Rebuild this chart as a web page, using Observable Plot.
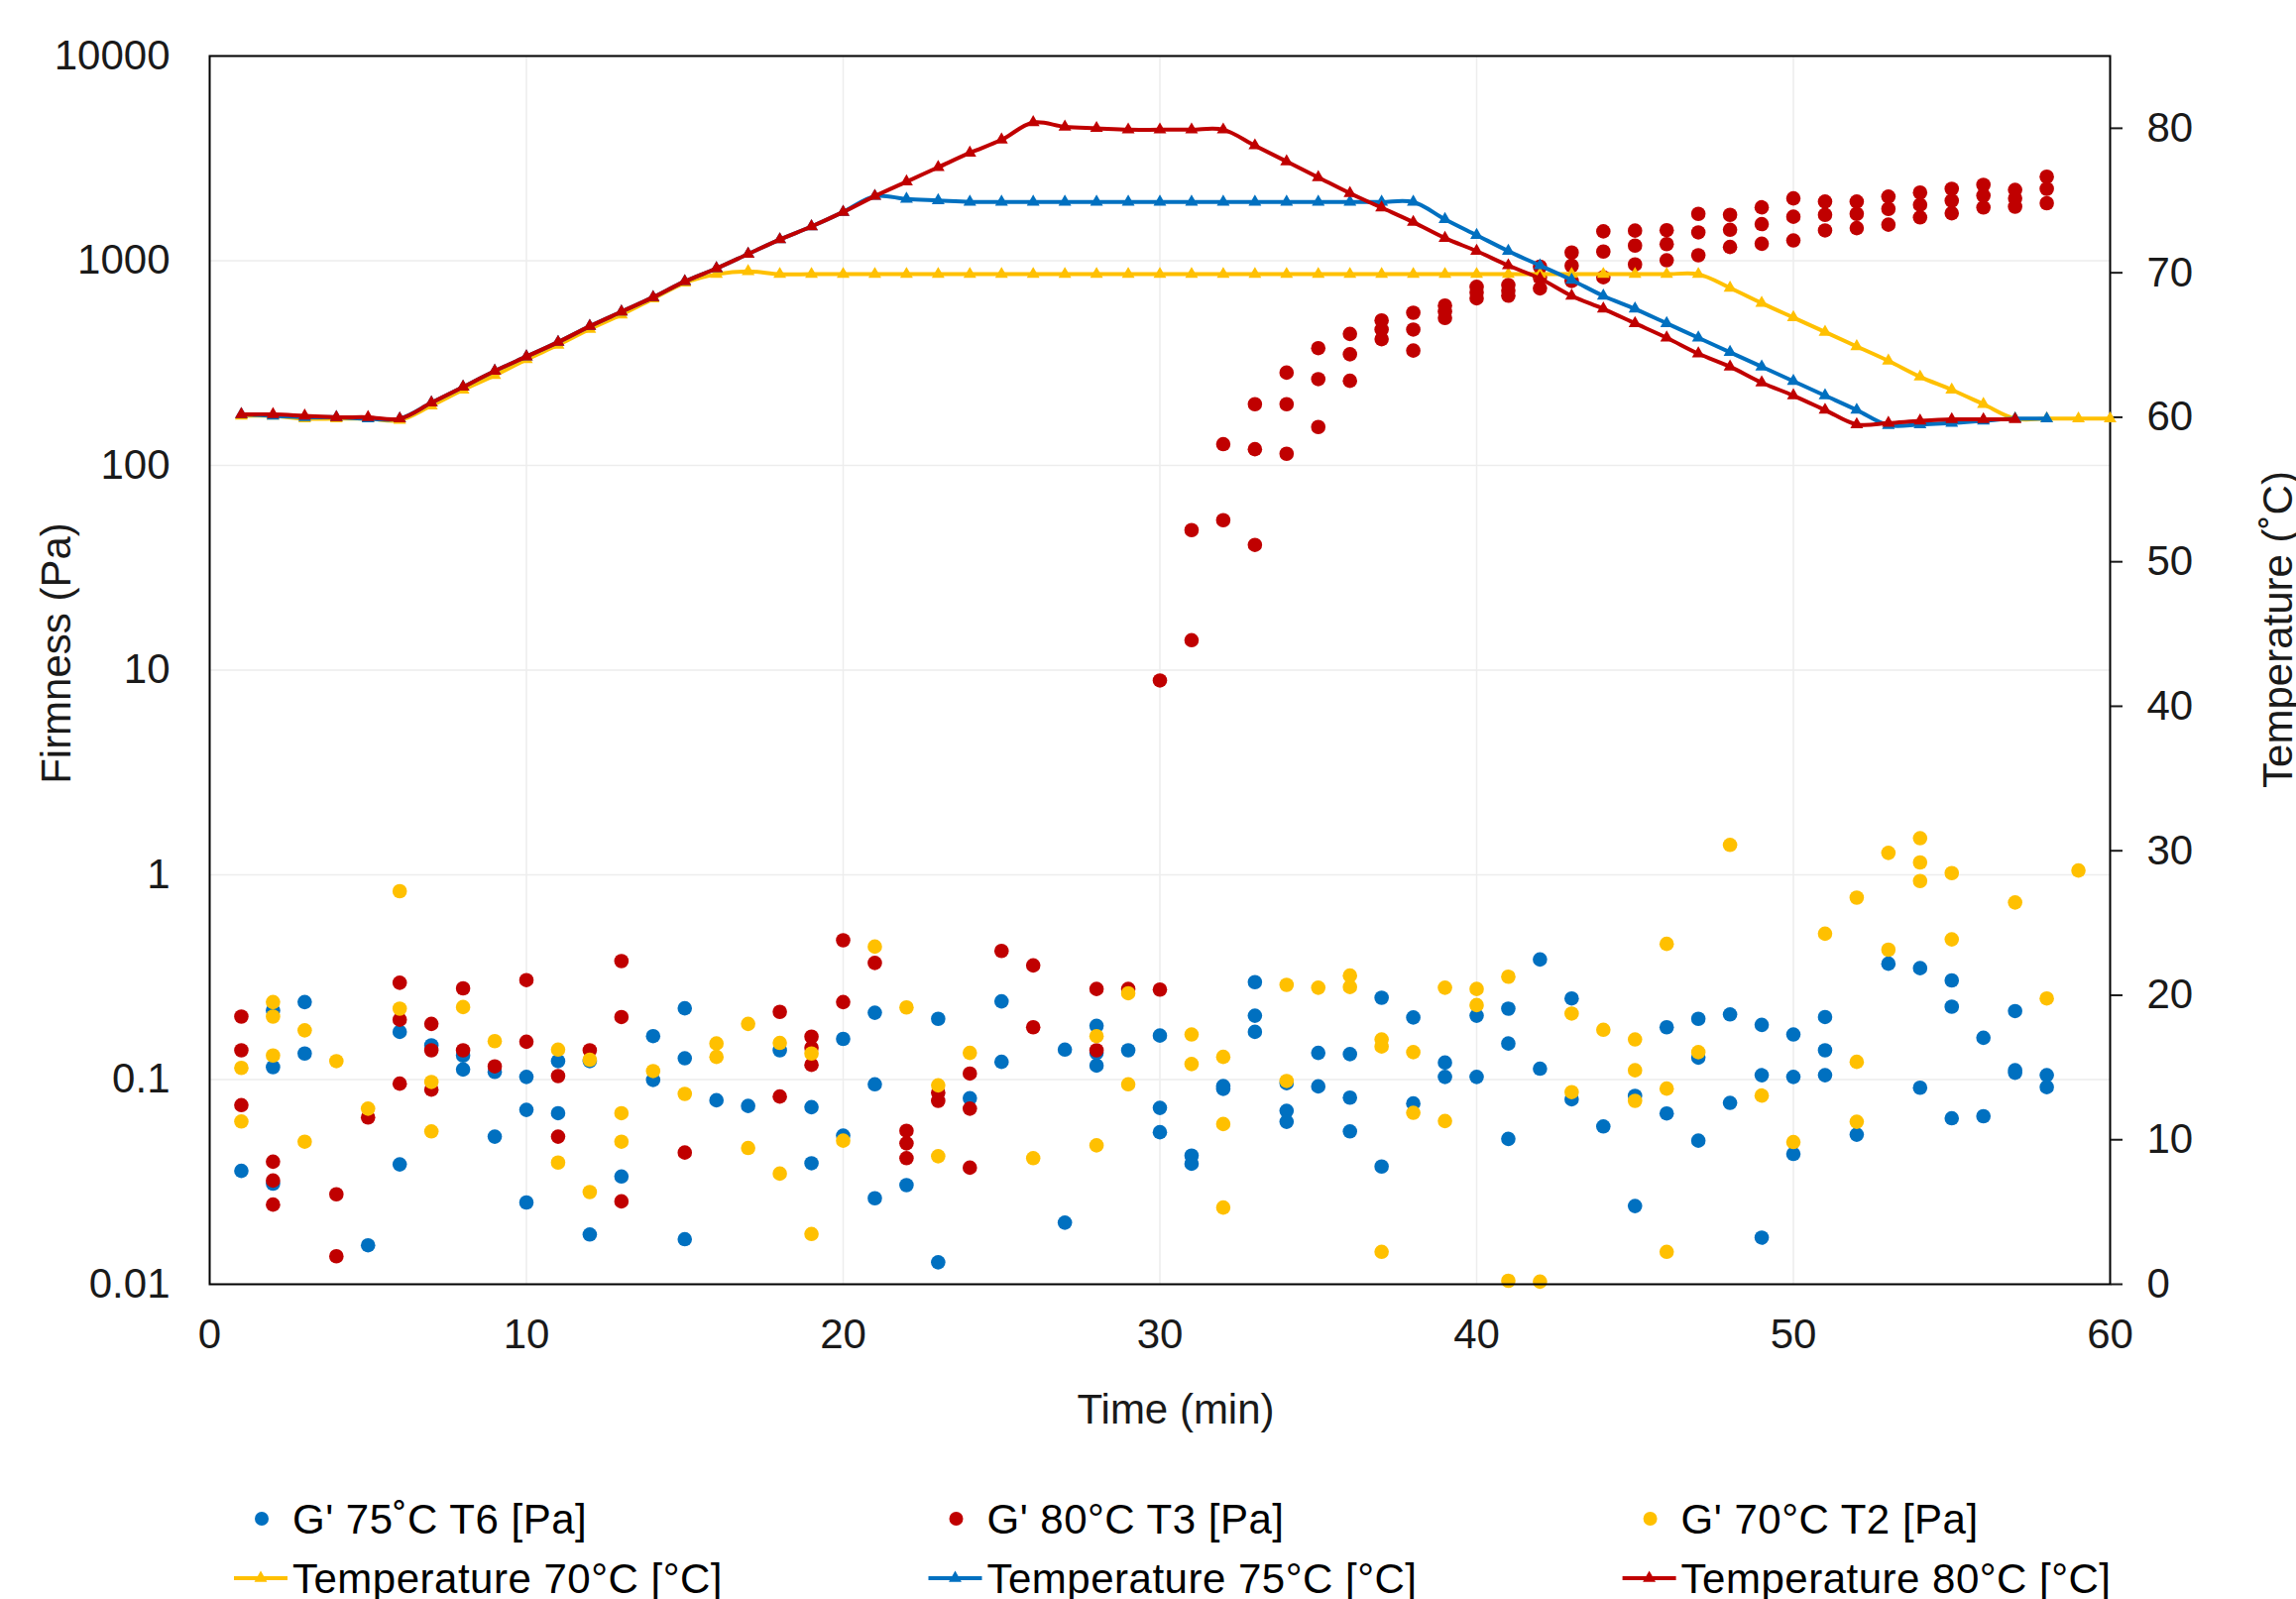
<!DOCTYPE html>
<html><head><meta charset="utf-8">
<script src="https://cdn.jsdelivr.net/npm/d3@7"></script>
<script src="https://cdn.jsdelivr.net/npm/@observablehq/plot@0.6"></script>
<style>
html,body{margin:0;padding:0;background:#fff;}
#fig{position:relative;width:2316px;height:1613px;overflow:hidden;background:#fff;font-family:"Liberation Sans",Arial,sans-serif;color:#1a1a1a;}
.rot{position:absolute;width:400px;height:42px;line-height:42px;font-size:42px;text-align:center;transform:rotate(-90deg);white-space:nowrap;}
.hz{position:absolute;width:400px;height:42px;line-height:42px;font-size:42px;text-align:center;white-space:nowrap;}
.lg{position:absolute;font-size:42px;line-height:42px;height:42px;white-space:nowrap;color:#000;letter-spacing:0.5px;}
</style></head>
<body><div id="fig"></div>
<script>
// ---- data ----
const xTicks = [0, 10, 20, 30, 40, 50, 60];
const yTicks = [0.01, 0.1, 1, 10, 100, 1000, 10000];
const tempTicks = [0, 10, 20, 30, 40, 50, 60, 70, 80];

const seriesNames = ["G' 75˚C T6 [Pa]", "G' 80°C T3 [Pa]", "G' 70°C T2 [Pa]"];
const tempNames = ["Temperature 70°C [°C]", "Temperature 75°C [°C]", "Temperature 80°C [°C]"];
const colors = {c75: "#0070C0", c80: "#C00000", c70: "#FFC000"};

// G' 75°C T6 [Pa]  : [time (min), firmness (Pa)]
const g75 = [[1,0.0358],[2,0.217],[2,0.115],[2,0.031],[3,0.239],[3,0.134],[5,0.0155],[6,0.171],[6,0.0385],[7,0.147],[8,0.131],[8,0.112],[9,0.109],[9,0.0526],[10,0.103],[10,0.0711],[10,0.0251],[11,0.123],[11,0.0685],[12,0.123],[12,0.0175],[13,0.0336],[14,0.163],[14,0.0995],[15,0.223],[15,0.127],[15,0.0166],[16,0.0792],[17,0.0743],[18,0.139],[19,0.0733],[19,0.039],[20,0.158],[20,0.0532],[21,0.212],[21,0.0948],[21,0.0263],[22,0.0305],[23,0.198],[23,0.0128],[24,0.0811],[25,0.241],[25,0.122],[27,0.140],[27,0.0200],[28,0.183],[28,0.135],[28,0.117],[29,0.139],[30,0.164],[30,0.0727],[30,0.0553],[31,0.0425],[31,0.0388],[32,0.0929],[32,0.090],[33,0.299],[33,0.205],[33,0.171],[34,0.096],[34,0.0703],[34,0.0622],[35,0.135],[35,0.0926],[36,0.133],[36,0.0816],[36,0.0558],[37,0.251],[37,0.0376],[38,0.201],[38,0.0764],[39,0.121],[39,0.103],[40,0.205],[40,0.103],[41,0.222],[41,0.150],[41,0.0513],[42,0.386],[42,0.113],[43,0.249],[43,0.0801],[44,0.059],[45,0.0832],[45,0.0241],[46,0.180],[46,0.0683],[47,0.198],[47,0.128],[47,0.0503],[48,0.208],[48,0.0769],[49,0.185],[49,0.105],[49,0.0169],[50,0.166],[50,0.103],[50,0.0433],[51,0.202],[51,0.139],[51,0.105],[52,0.0538],[53,0.368],[54,0.350],[54,0.0912],[55,0.305],[55,0.227],[55,0.0647],[56,0.160],[56,0.0662],[57,0.216],[57,0.111],[57,0.108],[58,0.105],[58,0.0918]];

// G' 80°C T3 [Pa]
const g80 = [[1,0.203],[1,0.139],[1,0.075],[2,0.0397],[2,0.0321],[2,0.0245],[4,0.0275],[4,0.0137],[5,0.0653],[6,0.297],[6,0.196],[6,0.0955],[7,0.187],[7,0.139],[7,0.0893],[8,0.279],[8,0.139],[9,0.116],[10,0.306],[10,0.153],[11,0.104],[11,0.0526],[12,0.139],[13,0.379],[13,0.202],[13,0.0254],[15,0.044],[18,0.214],[18,0.0826],[19,0.162],[19,0.143],[19,0.118],[20,0.479],[20,0.239],[21,0.371],[22,0.0562],[22,0.0488],[22,0.0413],[23,0.0863],[23,0.0787],[24,0.107],[24,0.0721],[24,0.0371],[25,0.425],[26,0.361],[26,0.180],[28,0.277],[28,0.139],[29,0.277],[30,0.275],[30,8.9],[31,48.3],[31,14.0],[32,127],[32,54],[33,199],[33,120],[33,40.9],[34,284],[34,199],[34,114],[35,374],[35,264],[35,154],[36,439],[36,349],[36,259],[37,511],[37,461],[37,414],[38,557],[38,461],[38,364],[39,604],[39,564],[39,525],[40,745],[40,700],[40,655],[41,760],[41,715],[41,675],[42,935],[42,830],[42,733],[43,1096],[43,946],[43,797],[44,1391],[44,1109],[44,830],[45,1403],[45,1185],[45,959],[46,1410],[46,1205],[46,1005],[47,1694],[47,1375],[47,1063],[48,1675],[48,1416],[48,1167],[49,1823],[49,1510],[49,1211],[50,2017],[50,1640],[50,1256],[51,1944],[51,1675],[51,1406],[52,1944],[52,1694],[52,1443],[53,2056],[53,1790],[53,1500],[54,2153],[54,1875],[54,1628],[55,2244],[55,1963],[55,1706],[56,2346],[56,2080],[56,1820],[57,2218],[57,2017],[57,1836],[58,2572],[58,2244],[58,1910]];

// G' 70°C T2 [Pa]
const g70 = [[1,0.114],[1,0.0624],[2,0.239],[2,0.203],[2,0.131],[3,0.174],[3,0.0497],[4,0.123],[5,0.0721],[6,0.832],[6,0.222],[7,0.0973],[7,0.0558],[8,0.226],[9,0.154],[11,0.140],[11,0.0393],[12,0.125],[12,0.0282],[13,0.0685],[13,0.0497],[14,0.110],[15,0.0851],[16,0.150],[16,0.129],[17,0.187],[17,0.0463],[18,0.151],[18,0.0347],[19,0.134],[19,0.0176],[20,0.0503],[21,0.446],[22,0.225],[23,0.0937],[23,0.0422],[24,0.135],[26,0.0413],[28,0.163],[28,0.0477],[29,0.264],[29,0.0948],[31,0.166],[31,0.119],[32,0.129],[32,0.0606],[32,0.0237],[34,0.290],[34,0.0984],[35,0.281],[36,0.322],[36,0.283],[37,0.157],[37,0.145],[37,0.0144],[38,0.136],[38,0.0688],[39,0.281],[39,0.0627],[40,0.277],[40,0.231],[41,0.318],[41,0.0104],[42,0.0103],[43,0.210],[43,0.0868],[44,0.175],[45,0.157],[45,0.111],[45,0.0787],[46,0.460],[46,0.0903],[46,0.0144],[47,0.136],[48,1.40],[49,0.0835],[50,0.0495],[51,0.516],[52,0.774],[52,0.122],[52,0.0622],[53,1.28],[53,0.431],[54,1.51],[54,1.15],[54,0.933],[55,1.02],[55,0.484],[57,0.733],[58,0.249],[59,1.05]];

// Temperatures (°C), one per minute starting at t = 1
const temp70 = [60.1,60.1,59.9,59.9,59.9,59.8,60.8,61.9,62.9,64.0,65.0,66.1,67.1,68.2,69.3,69.9,70.1,69.9,69.9,69.9,69.9,69.9,69.9,69.9,69.9,69.9,69.9,69.9,69.9,69.9,69.9,69.9,69.9,69.9,69.9,69.9,69.9,69.9,69.9,69.9,69.9,69.9,69.9,69.9,69.9,69.9,69.9,68.95,67.9,66.9,65.9,64.9,63.9,62.8,61.9,60.9,59.9,59.9,59.9,59.9];
const temp75 = [60.2,60.1,60.0,60.0,59.9,59.9,61.0,62.1,63.2,64.2,65.2,66.3,67.3,68.3,69.4,70.3,71.3,72.3,73.2,74.2,75.3,75.1,75.0,74.9,74.9,74.9,74.9,74.9,74.9,74.9,74.9,74.9,74.9,74.9,74.9,74.9,74.9,74.9,73.7,72.6,71.5,70.5,69.5,68.4,67.5,66.5,65.5,64.5,63.5,62.5,61.5,60.5,59.45,59.5,59.6,59.75,59.9,59.9];
const temp80 = [60.2,60.2,60.1,60.0,60.0,59.9,61.0,62.1,63.2,64.2,65.2,66.3,67.3,68.3,69.4,70.3,71.3,72.3,73.2,74.2,75.3,76.3,77.3,78.3,79.2,80.4,80.1,80.0,79.9,79.9,79.9,79.9,78.8,77.7,76.6,75.5,74.5,73.5,72.4,71.5,70.5,69.6,68.4,67.5,66.5,65.5,64.4,63.5,62.4,61.5,60.5,59.5,59.6,59.75,59.85,59.85,59.85];

// ---- build ----
const toRows = arr => arr.map(([t, v]) => ({t, v}));
const tRows = arr => arr.map((T, i) => ({t: i + 1, T}));

const W = 2316, H = 1460;
const common = {
  width: W, height: H,
  marginLeft: 211, marginRight: 188, marginTop: 56, marginBottom: H - 1295,
  style: {fontFamily: '"Liberation Sans", Arial, sans-serif', fontSize: "42px", color: "#1a1a1a", background: "transparent", overflow: "visible"}
};
const grid = {stroke: "#EDEDED", strokeOpacity: 1, strokeWidth: 1.5};

const p1 = Plot.plot({
  ...common,
  x: {domain: [0, 60]},
  y: {type: "log", domain: [0.01, 10000]},
  marks: [
    Plot.gridX(xTicks, grid),
    Plot.gridY(yTicks, grid),
    Plot.axisX(xTicks, {tickSize: 0, tickPadding: 35, tickFormat: d => String(d), label: null}),
    Plot.axisY(yTicks, {tickSize: 0, tickPadding: 40, tickFormat: d => String(d), label: null}),
    Plot.dot(toRows(g75), {x: "t", y: "v", r: 7.3, fill: colors.c75}),
    Plot.dot(toRows(g80), {x: "t", y: "v", r: 7.3, fill: colors.c80}),
    Plot.dot(toRows(g70), {x: "t", y: "v", r: 7.3, fill: colors.c70}),
    Plot.frame({stroke: "#000", strokeWidth: 2})
  ]
});

const lineOpts = c => ({x: "t", y: "T", stroke: c, strokeWidth: 4, curve: "catmull-rom"});
const triOpts = c => ({x: "t", y: "T", symbol: "triangle", r: 4.8, fill: c});
const p2 = Plot.plot({
  ...common,
  x: {domain: [0, 60], axis: null},
  y: {domain: [0, 85]},
  marks: [
    Plot.axisY(tempTicks, {anchor: "right", tickSize: 12, tickPadding: 25, strokeWidth: 2, label: null, tickFormat: d => String(d)}),
    Plot.line(tRows(temp70), lineOpts(colors.c70)),
    Plot.dot(tRows(temp70), triOpts(colors.c70)),
    Plot.line(tRows(temp75), lineOpts(colors.c75)),
    Plot.dot(tRows(temp75), triOpts(colors.c75)),
    Plot.line(tRows(temp80), lineOpts(colors.c80)),
    Plot.dot(tRows(temp80), triOpts(colors.c80))
  ]
});

const fig = document.getElementById("fig");
for (const p of [p1, p2]) {
  p.style.position = "absolute";
  p.style.left = "0px";
  p.style.top = "0px";
  fig.appendChild(p);
}

function addText(cls, text, cx, cy) {
  const d = document.createElement("div");
  d.className = cls;
  d.textContent = text;
  d.style.left = (cx - 200) + "px";
  d.style.top = (cy - 21) + "px";
  fig.appendChild(d);
}
addText("rot", "Firmness (Pa)", 56.5, 659);
addText("rot", "Temperature (˚C)", 2297.5, 635);
addText("hz", "Time (min)", 1186, 1422);

// legend
const colX = [295, 995.5, 1695.6];
const row1 = 1532, row2 = 1592;
const lsvg = d3.select(fig).append("svg")
  .attr("width", W).attr("height", 1613)
  .style("position", "absolute").style("left", "0px").style("top", "0px");
const dotCols = [colors.c75, colors.c80, colors.c70];
const lineCols = [colors.c70, colors.c75, colors.c80];
seriesNames.forEach((name, i) => {
  lsvg.append("circle").attr("cx", colX[i] - 31).attr("cy", row1).attr("r", 7).attr("fill", dotCols[i]);
  const d = document.createElement("div");
  d.className = "lg"; d.textContent = name;
  d.style.left = colX[i] + "px"; d.style.top = (row1 - 20.5) + "px";
  fig.appendChild(d);
});
tempNames.forEach((name, i) => {
  const x0 = colX[i] - 59, x1 = colX[i] - 5;
  lsvg.append("line").attr("x1", x0).attr("x2", x1).attr("y1", row2).attr("y2", row2)
    .attr("stroke", lineCols[i]).attr("stroke-width", 4);
  lsvg.append("path").attr("d", d3.symbol(d3.symbolTriangle, Math.PI * 4.8 * 4.8)())
    .attr("transform", `translate(${(x0 + x1) / 2},${row2})`).attr("fill", lineCols[i]);
  const d = document.createElement("div");
  d.className = "lg"; d.textContent = name;
  d.style.left = colX[i] + "px"; d.style.top = (row2 - 20.5) + "px";
  fig.appendChild(d);
});
</script>
</body></html>
